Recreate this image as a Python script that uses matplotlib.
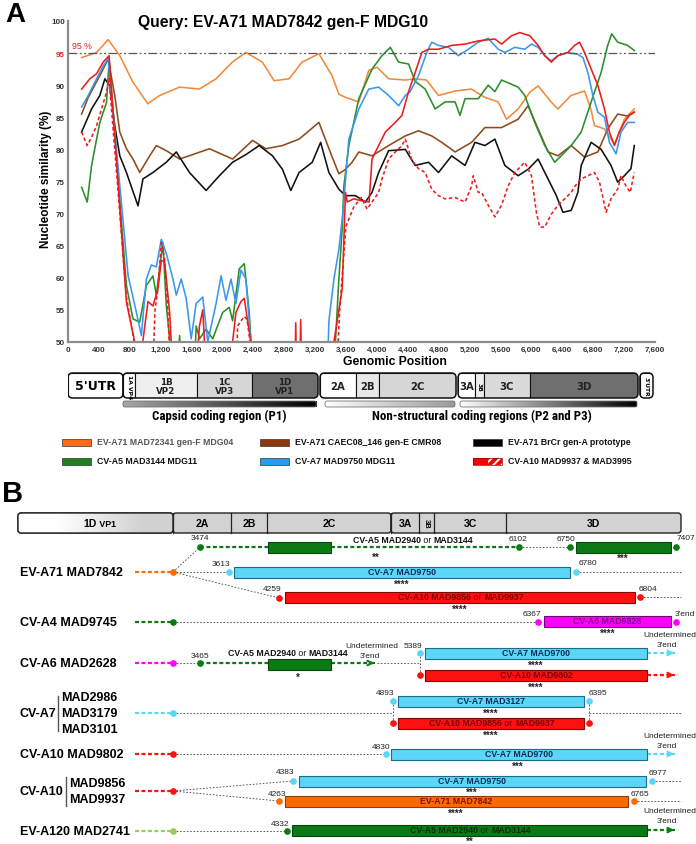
import matplotlib
matplotlib.use("Agg")
import numpy as np
import matplotlib.pyplot as plt
from matplotlib import font_manager
from matplotlib.colors import LinearSegmentedColormap
from matplotlib.patches import Rectangle, FancyBboxPatch
from matplotlib.ticker import FuncFormatter

_names = {f.name for f in font_manager.fontManager.ttflist}
SANS = "Liberation Sans" if "Liberation Sans" in _names else "DejaVu Sans"
NARROW = SANS
for cand in ["Liberation Sans Narrow", "Roboto Condensed", "Open Sans Condensed",
             "Noto Sans Condensed", "DejaVu Sans Condensed"]:
    if cand in _names:
        NARROW = cand
        break
plt.rcParams["font.family"] = [SANS, "DejaVu Sans"]
plt.rcParams["hatch.linewidth"] = 1.4

W, H = 696, 845

# ---------------- panel A: similarity plot data (genomic position, %) -------------
orange_pts = [(180, 94.3), (374, 95.1), (523, 97.1), (674, 94.6), (843, 90.5), (1036, 87.1),
              (1190, 88.4), (1448, 89.7), (1705, 89.4), (1920, 91.0), (2131, 93.6), (2307, 95.1),
              (2518, 93.6), (2671, 90.7), (2865, 91.0), (3033, 93.6), (3251, 94.9), (3420, 91.5),
              (3509, 88.6), (3595, 88.1), (3767, 87.4), (3896, 92.3), (4003, 92.8), (4153, 91.0),
              (4369, 90.8), (4497, 91.0), (4644, 90.8), (4798, 88.4), (5013, 89.1), (5223, 89.4),
              (5399, 88.1), (5571, 87.4), (5678, 84.7), (5829, 86.3), (5980, 88.9), (6087, 89.9),
              (6254, 87.4), (6344, 86.3), (6512, 88.4), (6688, 89.1), (6770, 86.3), (6817, 83.7),
              (6946, 83.2), (7075, 80.8), (7204, 84.7), (7332, 86.3)]
brown_pts = [(180, 85.5), (266, 88.1), (416, 91.5), (523, 94.1), (609, 88.4), (674, 82.7),
             (760, 80.1), (845, 78.5), (932, 76.4), (1061, 79.0), (1147, 80.6), (1276, 79.8),
             (1448, 78.5), (1619, 79.2), (1834, 80.1), (2134, 78.5), (2392, 81.4), (2564, 80.1),
             (2779, 80.6), (2994, 81.6), (3251, 84.2), (3423, 78.8), (3509, 76.2), (3595, 76.9),
             (3680, 78.0), (3767, 79.6), (3938, 79.0), (4153, 80.6), (4369, 82.1), (4540, 82.9),
             (4711, 82.1), (4840, 81.1), (5013, 79.6), (5227, 81.1), (5399, 83.4), (5614, 83.4),
             (5829, 84.7), (5958, 86.8), (6087, 83.2), (6216, 79.6), (6344, 79.0), (6516, 80.6),
             (6688, 78.8), (6860, 79.6), (6988, 83.2), (7117, 85.5), (7246, 85.2), (7332, 85.8)]
black_pts = [(180, 82.7), (309, 86.3), (416, 88.4), (481, 91.0), (545, 89.9), (609, 83.7),
             (674, 79.0), (760, 76.4), (910, 71.2), (974, 75.4), (1103, 76.4), (1276, 78.0),
             (1405, 79.6), (1576, 76.4), (1791, 73.6), (1963, 75.9), (2134, 78.0), (2307, 79.2),
             (2478, 80.6), (2650, 79.0), (2779, 76.9), (2887, 73.6), (2994, 76.4), (3165, 78.0),
             (3273, 81.1), (3380, 76.4), (3509, 73.8), (3595, 72.8), (3724, 72.8), (3853, 71.8),
             (3938, 73.3), (4024, 76.4), (4153, 79.8), (4369, 80.0), (4497, 77.5), (4669, 78.0),
             (4798, 76.4), (4969, 79.0), (5142, 77.5), (5270, 81.1), (5399, 80.6), (5528, 81.6),
             (5657, 77.5), (5829, 75.9), (5958, 76.9), (6087, 78.5), (6216, 75.4), (6323, 72.8),
             (6409, 70.2), (6516, 70.5), (6602, 73.3), (6645, 77.5), (6774, 81.1), (6903, 80.0),
             (7031, 77.5), (7117, 74.9), (7204, 75.9), (7289, 77.0), (7332, 80.6)]
green_pts = [(180, 74.1), (253, 71.8), (309, 77.5), (374, 81.6), (416, 84.2), (502, 87.3),
             (536, 93.8), (609, 82.7), (700, 68.0), (760, 58.8), (845, 53.6), (932, 53.1),
             (1018, 58.8), (1103, 60.3), (1147, 57.3), (1232, 65.5), (1276, 55.7), (1319, 50.5),
             (1340, 45), (1420, 45), (1448, 51.0), (1475, 45), (1640, 45), (1662, 52.5),
             (1706, 50.5), (1790, 52.0), (1877, 50.5), (2005, 54.6), (2091, 55.4), (2134, 53.3),
             (2220, 61.4), (2285, 62.2), (2349, 54.6), (2371, 50.0), (2390, 45), (3445, 45),
             (3467, 50.5), (3509, 59.8), (3552, 67.6), (3574, 74.3), (3638, 80.6), (3767, 87.9),
             (3938, 92.5), (4067, 94.6), (4175, 95.9), (4282, 93.6), (4411, 93.3), (4497, 90.6),
             (4626, 89.4), (4755, 86.3), (4884, 87.4), (5013, 87.4), (5076, 85.3), (5142, 87.9),
             (5313, 87.9), (5442, 90.0), (5528, 89.0), (5614, 90.8), (5829, 89.7), (5915, 88.4),
             (6044, 84.2), (6173, 80.6), (6302, 78.0), (6387, 79.0), (6516, 80.6), (6645, 82.7),
             (6774, 87.4), (6903, 92.0), (6988, 96.2), (7040, 98.0), (7117, 96.7), (7246, 96.2),
             (7332, 95.4)]
blue_pts = [(180, 86.6), (266, 88.4), (374, 91.0), (459, 93.0), (523, 94.1), (782, 60.3),
            (889, 54.6), (953, 51.0), (1018, 59.8), (1082, 62.0), (1147, 61.7), (1211, 66.0),
            (1276, 63.8), (1362, 59.8), (1405, 57.3), (1469, 59.8), (1533, 56.8), (1598, 50.5),
            (1662, 56.0), (1748, 57.0), (1812, 50.0), (1920, 56.0), (1985, 60.3), (2048, 56.5),
            (2113, 59.8), (2177, 56.0), (2242, 61.2), (2306, 59.8), (2371, 50.0), (2390, 45),
            (3360, 45), (3380, 53.3), (3445, 59.8), (3509, 64.4), (3560, 70.0), (3638, 81.6),
            (3767, 86.3), (3896, 89.4), (4024, 89.7), (4153, 88.4), (4282, 86.8), (4369, 88.4),
            (4432, 89.0), (4540, 91.5), (4647, 95.1), (4711, 96.7), (4798, 96.2), (4927, 95.9),
            (5055, 94.6), (5184, 95.6), (5313, 96.7), (5442, 97.3), (5571, 95.6), (5657, 95.1),
            (5786, 95.9), (5915, 95.6), (6001, 96.4), (6087, 95.9), (6173, 94.6), (6258, 93.8),
            (6344, 94.6), (6473, 95.1), (6602, 94.8), (6667, 94.3), (6731, 92.0), (6796, 88.4),
            (6860, 85.8), (6946, 85.0), (7010, 81.1), (7096, 79.3), (7160, 82.7), (7246, 84.2),
            (7332, 84.2)]
red_pts = [(180, 89.4), (287, 91.0), (374, 91.8), (459, 93.6), (536, 94.6), (760, 56.2),
           (867, 50), (900, 45), (950, 45), (974, 50.3), (1039, 56.3), (1103, 55.6), (1168, 58.3),
           (1211, 62.7), (1254, 62.5), (1319, 54.6), (1340, 50), (1360, 45), (1660, 45),
           (1690, 50), (1705, 52.5), (1748, 55), (1770, 50), (1790, 45), (2110, 45), (2134, 50),
           (2177, 54.6), (2242, 56.3), (2285, 56.8), (2328, 53.3), (2371, 50), (2390, 45),
           (2940, 45), (2951, 53), (2962, 45), (3003, 45), (3015, 53.5), (3027, 45), (3430, 45),
           (3445, 50), (3488, 53.3), (3552, 58.3), (3595, 73.3), (3617, 71.8), (3700, 72.3),
           (3800, 72.0), (3900, 71.8), (3938, 78.5), (4024, 80.6), (4110, 82.7), (4239, 84.2),
           (4325, 85.3), (4411, 89.0), (4497, 92.0), (4583, 95.1), (4669, 95.6), (4798, 95.6),
           (4969, 96.2), (5142, 96.4), (5313, 96.9), (5528, 97.2), (5614, 96.4), (5743, 97.7),
           (5850, 98.2), (5980, 97.7), (6087, 96.2), (6173, 94.6), (6258, 93.6), (6344, 94.6),
           (6473, 95.1), (6559, 96.2), (6624, 96.7), (6688, 95.1), (6774, 92.5), (6860, 90.0),
           (6946, 86.3), (7010, 82.7), (7075, 80.6), (7139, 82.7), (7203, 84.2), (7268, 85.3),
           (7332, 85.8)]
red_dash_pts = [(180, 82.7), (253, 80.6), (309, 81.9), (374, 83.7), (438, 86.3), (502, 88.9),
                (536, 91.0), (760, 57.0), (860, 50), (880, 45), (1100, 45), (1130, 55),
                (1168, 58.3), (1211, 65.5), (1254, 63.0), (1297, 54.6), (1330, 45), (2180, 45),
                (2199, 52.5), (2285, 54.0), (2320, 53.5), (2360, 50), (2380, 45), (3480, 45),
                (3520, 55), (3600, 68), (3700, 71.0), (3800, 72.5), (3874, 70.7), (3938, 71.8),
                (4024, 73.3), (4067, 75.4), (4153, 78.5), (4239, 79.6), (4325, 80.6), (4369, 81.6),
                (4454, 78.3), (4540, 77.0), (4626, 76.4), (4711, 73.8), (4798, 72.8), (4884, 72.3),
                (5013, 72.5), (5142, 71.8), (5227, 74.3), (5249, 75.9), (5313, 73.3), (5356, 73.3),
                (5442, 71.3), (5528, 69.5), (5614, 71.3), (5700, 74.3), (5786, 76.4), (5915, 78.0),
                (6001, 75.9), (6065, 70.2), (6108, 67.9), (6173, 67.9), (6258, 69.9), (6344, 71.3),
                (6430, 72.3), (6516, 73.3), (6559, 74.2), (6645, 75.4), (6731, 75.9), (6817, 76.4),
                (6882, 74.9), (6967, 70.2), (7031, 72.3), (7117, 73.8), (7160, 75.9), (7224, 74.3),
                (7280, 73.3), (7332, 76.4)]

legend_labels = ["EV-A71 MAD72341 gen-F MDG04", "EV-A71 CAEC08_146 gen-E CMR08",
                 "EV-A71 BrCr gen-A prototype", "CV-A5 MAD3144 MDG11", "CV-A7 MAD9750 MDG11",
                 "CV-A10 MAD9937 & MAD3995"]

# genome map (genomic coordinates as drawn under the axis)
gene_names = ["5'UTR", "1A VP4", "1B\nVP2", "1C\nVP3", "1D\nVP1", "2A", "2B", "2C",
              "3A", "3B", "3C", "3D", "3'UTR"]
gene_start = [4, 716, 873, 1673, 2385, 3265, 3731, 4029, 5051, 5271, 5387, 5983, 7405]
gene_end = [716, 873, 1673, 2385, 3239, 3731, 4029, 5025, 5271, 5387, 5983, 7380, 7574]
gene_fill = ["white", "white", "#efefef", "#d6d6d6", "#6f6f6f", "white", "#e8e8e8", "#d6d6d6",
             "white", "#eeeeee", "#dadada", "#6f6f6f", "white"]
gene_groups = [(0, 0), (1, 4), (5, 7), (8, 11), (12, 12)]

ORANGE, BROWN, BLACK = "#f28a3c", "#8f4a1a", "#111111"
GREEN, BLUE, RED = "#2a8f2a", "#3b97ee", "#ee1c1c"

fig = plt.figure(figsize=(W / 100, H / 100), dpi=100)

ax_l, ax_r = 67.7, 655
ax = fig.add_axes([ax_l / W, 1 - 343 / H, (ax_r - ax_l) / W, (343 - 22) / H])
series = [(orange_pts, ORANGE, "-"), (brown_pts, BROWN, "-"), (black_pts, BLACK, "-"),
          (green_pts, GREEN, "-"), (blue_pts, BLUE, "-"), (red_pts, RED, "-"),
          (red_dash_pts, RED, (0, (2.2, 1.6)))]
for pts, col, ls in series:
    xs, ys = zip(*pts)
    ax.plot(xs, ys, color=col, lw=1.15, ls=ls)
ax.axhline(95, color="#555555", lw=0.9, ls=(0, (7, 2, 1.5, 2, 1.5, 2)))
ax.set_xlim(0, 7600)
ax.set_ylim(50, 100)
ax.set_xticks(range(0, 7601, 400))
ax.set_yticks(range(50, 101, 5))
ax.xaxis.set_major_formatter(FuncFormatter(lambda v, p: f"{int(v):,}"))
ax.tick_params(length=0, labelsize=5.8, colors="#333333")
ax.tick_params(axis="x", pad=3)
ax.tick_params(axis="y", pad=2)
for lab in ax.get_xticklabels() + ax.get_yticklabels():
    lab.set_fontweight("bold")
for lab in ax.get_yticklabels():
    if lab.get_text() == "95":
        lab.set_color("#e8202a")
for s in ("top", "right"):
    ax.spines[s].set_visible(False)
for s in ("left", "bottom"):
    ax.spines[s].set_color("#8c8c8c")
    ax.spines[s].set_linewidth(1.6)
ax.text(60, 96.2, "95 %", color="#e8202a", fontsize=6.3, ha="left", va="center")

fig.text(5 / W, 1 - 15 / H, "A", fontsize=20, fontweight="bold", va="center")
fig.text(283 / W, 1 - 23 / H, "Query: EV-A71 MAD7842 gen-F MDG10", fontsize=11.3,
         fontweight="bold", ha="center", va="center")
fig.text(46 / W, 1 - 179 / H, "Nucleotide similarity (%)", fontsize=8.5, fontweight="bold",
         rotation=90, ha="center", va="center")
fig.text(395 / W, 1 - 362 / H, "Genomic Position", fontsize=8.7, fontweight="bold",
         ha="center", va="center")

# ---------------- genome map under panel A --------------------------------------
gax = fig.add_axes([ax_l / W, 1 - 440 / H, (ax_r - ax_l) / W, 75 / H])
gax.set_xlim(0, 7600)
gax.set_ylim(440, 365)
gax.axis("off")
asp = (ax_r - ax_l) / 7600.0
y0, y1 = 374, 399
for g0, g1 in gene_groups:
    x0, x1 = gene_start[g0], gene_end[g1]
    box = FancyBboxPatch((x0, y0), x1 - x0, y1 - y0, boxstyle="round,pad=0,rounding_size=60",
                         mutation_aspect=asp, fc="white", ec="none")
    gax.add_patch(box)
    for i in range(g0, g1 + 1):
        r = Rectangle((gene_start[i], y0), gene_end[i] - gene_start[i], y1 - y0,
                      fc=gene_fill[i], ec="#111111", lw=0.8)
        gax.add_patch(r)
        r.set_clip_path(box)
    gax.add_patch(FancyBboxPatch((x0, y0), x1 - x0, y1 - y0,
                                 boxstyle="round,pad=0,rounding_size=60",
                                 mutation_aspect=asp, fc="none", ec="#111111", lw=1.1))
for i, name in enumerate(gene_names):
    cx = (gene_start[i] + gene_end[i]) / 2
    if name == "5'UTR":
        gax.text(cx, 387, name, fontsize=9, fontweight="bold", family="DejaVu Sans",
                 ha="center", va="center")
    elif name in ("1A VP4", "3B", "3'UTR"):
        gax.text(cx, 387, name, fontsize=4.3, fontweight="bold", family="DejaVu Sans",
                 ha="center", va="center", rotation=-90)
    elif "\n" in name:
        gax.text(cx, 387, name, fontsize=6.3, fontweight="bold", family="DejaVu Sans",
                 ha="center", va="center", linespacing=1.0, color="#222222")
    else:
        gax.text(cx, 387, name, fontsize=7.3, fontweight="bold", family="DejaVu Sans",
                 ha="center", va="center", color="#222222")

grad = np.linspace(0, 1, 256).reshape(1, -1)
bars = [(716, 3215, ["#a8a8a8", "#000000"]), (3330, 5011, ["#ffffff", "#9a9a9a"]),
        (5077, 7367, ["#ffffff", "#000000"])]
for x0, x1, cols in bars:
    cm = LinearSegmentedColormap.from_list("g", cols)
    gax.imshow(grad, cmap=cm, extent=[x0, x1, 408, 402], aspect="auto", zorder=2)
    gax.add_patch(FancyBboxPatch((x0, 402), x1 - x0, 6, boxstyle="round,pad=0,rounding_size=25",
                                 mutation_aspect=asp, fc="none", ec="#777777", lw=0.6, zorder=3))
gax.set_xlim(0, 7600)
gax.set_ylim(440, 365)

cap_fs = 9.3 if NARROW != SANS else 7.8
fig.text(219 / W, 1 - 416 / H, "Capsid coding region (P1)", family=NARROW, fontsize=cap_fs,
         fontweight="bold", ha="center", va="center")
fig.text(482 / W, 1 - 416 / H, "Non-structural coding regions (P2 and P3)", family=NARROW,
         fontsize=cap_fs, fontweight="bold", ha="center", va="center")

# ---------------- overlay in pixel coordinates (legend + panel B) --------------
ov = fig.add_axes([0, 0, 1, 1], facecolor="none")
ov.set_autoscale_on(False)
ov.set_xlim(0, W)
ov.set_ylim(H, 0)
ov.axis("off")

leg_cols = ["#ff6a1a", "#8b3a10", "#000000", "#1f7f1f", "#1ea0f0", "#ff0000"]
leg_px = [62, 260, 473]
leg_py = [443, 462]
for k, (lab, col) in enumerate(zip(legend_labels, leg_cols)):
    px, py = leg_px[k % 3], leg_py[k // 3]
    if k == 5:
        ov.add_patch(Rectangle((px, py - 3.5), 15, 7, fc=col, ec="none"))
        ov.add_patch(Rectangle((px + 15, py - 3.5), 14, 7, fc=col, ec="white", lw=0, hatch="////"))
        ov.add_patch(Rectangle((px, py - 3.5), 29, 7, fc="none", ec="#8a0000", lw=0.5))
    else:
        ov.add_patch(Rectangle((px, py - 3.5), 29, 7, fc=col, ec="#333333", lw=0.5))
    ov.text(px + 35, py, lab, fontsize=6.3, fontweight="bold", ha="left", va="center",
            color="#555555" if k == 0 else "#111111")

ov.text(2, 494, "B", fontsize=21, fontweight="bold", va="center", ha="left")

# panel B top genome bar
b_regions = ["1D", "2A", "2B", "2C", "3A", "3B", "3C", "3D"]
b_edges = [18, 173, 231, 267, 391, 419, 434, 506, 681]
b_groups = [(0, 1), (1, 4), (4, 8)]
for a, b in b_groups:
    x0, x1 = b_edges[a], b_edges[b]
    p = FancyBboxPatch((x0, 514), x1 - x0, 20, boxstyle="round,pad=0,rounding_size=3",
                       fc="#d2d2d2", ec="#222222", lw=1.0)
    ov.add_patch(p)
    if a == 0:
        cm = LinearSegmentedColormap.from_list("v", [(0, "white"), (0.25, "white"),
                                                     (0.8, "#d2d2d2"), (1, "#d2d2d2")])
        im = ov.imshow(grad, cmap=cm, extent=[x0, x1, 534, 514], aspect="auto", zorder=1.5)
        im.set_clip_path(p)
        ov.add_patch(FancyBboxPatch((x0, 514), x1 - x0, 20, boxstyle="round,pad=0,rounding_size=3",
                                    fc="none", ec="#222222", lw=1.0, zorder=2))
for e in b_edges[1:-1]:
    ov.plot([e, e], [514, 534], color="#222222", lw=0.9, zorder=2.5)
ov.set_xlim(0, W)
ov.set_ylim(H, 0)
for i, name in enumerate(b_regions):
    cx = (b_edges[i] + b_edges[i + 1]) / 2
    if name == "1D":
        t = ov.text(90, 524.5, "1D", fontsize=7.6, fontweight="bold", ha="center", va="center")
        ov.annotate(" VP1", xy=(1, 0.5), xycoords=t, fontsize=6.3, fontweight="bold",
                    ha="left", va="center")
    elif name == "3B":
        ov.text(cx, 524, name, fontsize=5.5, fontweight="bold", ha="center", va="center",
                rotation=-90)
    else:
        ov.text(cx, 524.5, name, fontsize=7.6, fontweight="bold", ha="center", va="center")

G_B, CY_B, RED_B = "#0b7a14", "#5cd6f7", "#ff1010"
MAG_B, OR_B, LG_B = "#ff00ff", "#ff6a00", "#9ccc5a"
EDGE = {G_B: "#064a0a", CY_B: "#1d6a8a", RED_B: "#8b0000", MAG_B: "#7a007a", OR_B: "#8b3a00"}
TXT = {G_B: "#062e08", CY_B: "#0d2a55", RED_B: "#7d0000", MAG_B: "#7a007a", OR_B: "#7d1400"}
BOX_FS = 6.3


def dot(x, y, c):
    ov.plot([x], [y], "o", ms=3.8, color=c, mec=c, zorder=5)


def dashed(x0, x1, y, c):
    ov.plot([x0, x1], [y, y], color=c, lw=1.6, ls=(0, (1.8, 1.1)), zorder=3)


def dotted(xs, ys):
    ov.plot(xs, ys, color="#444444", lw=0.6, ls=(0, (2, 2)), zorder=2)


def arrow(x0, x1, y, c):
    dashed(x0, x1 - 3, y, c)
    ov.annotate("", xy=(x1, y), xytext=(x1 - 6, y),
                arrowprops=dict(arrowstyle="->", color=c, lw=1.5, mutation_scale=8), zorder=4)


def num(x, y, s, fs=6.0):
    ov.text(x, y, s, fontsize=fs, color="#222222", ha="center", va="center")


def stars(x, y, s):
    ov.text(x, y + 1.5, s, fontsize=7, fontweight="bold", color="#222222", ha="center",
            va="center", zorder=7)


def or_text(cx, cy, left, right, color, fs=BOX_FS):
    shift = (len(left) - len(right)) * 0.40 * fs
    mid = ov.text(cx + shift, cy, " or ", fontsize=fs, color=color, ha="center", va="center",
                  zorder=6)
    ov.annotate(left, xy=(0, 0.5), xycoords=mid, fontsize=fs, fontweight="bold", color=color,
                ha="right", va="center", zorder=6)
    ov.annotate(right, xy=(1, 0.5), xycoords=mid, fontsize=fs, fontweight="bold", color=color,
                ha="left", va="center", zorder=6)


def box(x0, x1, yc, c, text=None, h=11):
    ov.add_patch(Rectangle((x0, yc - h / 2), x1 - x0, h, fc=c, ec=EDGE[c], lw=0.8, zorder=4))
    if isinstance(text, tuple):
        or_text((x0 + x1) / 2, yc, text[0], text[1], TXT[c])
    elif text:
        ov.text((x0 + x1) / 2, yc, text, fontsize=BOX_FS, fontweight="bold", color=TXT[c],
                ha="center", va="center", zorder=6)


def lead(y, c):
    dashed(135, 173, y, c)
    dot(173, y, c)


# row labels
row_labels = ["EV-A71 MAD7842", "CV-A4 MAD9745", "CV-A6 MAD2628", "CV-A10 MAD9802",
              "EV-A120 MAD2741"]
row_label_y = [573, 623, 664, 755, 832]
for lab, y in zip(row_labels, row_label_y):
    ov.text(20, y, lab, fontsize=9, fontweight="bold", ha="left", va="center")
ov.text(20, 714, "CV-A7", fontsize=9, fontweight="bold", ha="left", va="center")
ov.plot([58, 58], [697, 732], color="#555555", lw=1.0)
for s, y in zip(["MAD2986", "MAD3179", "MAD3101"], [698, 714, 730]):
    ov.text(61, y, s, fontsize=9, fontweight="bold", ha="left", va="center")
ov.text(20, 792, "CV-A10", fontsize=9, fontweight="bold", ha="left", va="center")
ov.plot([66, 66], [778, 807], color="#555555", lw=1.0)
for s, y in zip(["MAD9856", "MAD9937"], [784, 800]):
    ov.text(69, y, s, fontsize=9, fontweight="bold", ha="left", va="center")

A5 = ("CV-A5 MAD2940", "MAD3144")

# EV-A71 MAD7842
lead(573, OR_B)
dotted([173, 200], [573, 548])
dotted([173, 229], [573, 573])
dotted([173, 279], [573, 599])
dashed(200, 268, 548, G_B)
box(268, 331, 548, G_B)
dashed(331, 519, 548, G_B)
dotted([519, 570], [548, 548])
box(576, 671, 548, G_B)
for x in (200, 519, 570, 676):
    dot(x, 548, G_B)
or_text(412, 541, A5[0], A5[1], "#111111")
stars(376, 556, "**")
stars(623, 557, "***")
num(200, 539, "3474")
num(518, 540, "6102")
num(566, 540, "6750")
num(686, 539, "7407")
dot(229, 573, CY_B)
box(234, 570, 573, CY_B, "CV-A7 MAD9750")
stars(402, 583, "****")
dot(576, 573, CY_B)
dotted([576, 681], [573, 573])
num(221, 565, "3613")
num(588, 564, "6780")
dot(279, 599, RED_B)
box(285, 635, 598, RED_B, ("CV-A10 MAD9856", "MAD9937"))
stars(460, 608, "****")
dot(640, 598, RED_B)
dotted([640, 681], [598, 598])
num(272, 590, "4259")
num(648, 590, "6804")

# CV-A4 MAD9745
lead(623, G_B)
dotted([173, 538], [623, 623])
dot(538, 623, MAG_B)
box(544, 671, 622, MAG_B, "CV-A6 MAD9828")
stars(608, 632, "****")
dot(676, 623, MAG_B)
num(532, 615, "6367")
num(685, 615, "3'end")

# CV-A6 MAD2628
lead(664, MAG_B)
dotted([173, 200], [664, 664])
dot(200, 664, G_B)
num(200, 657, "3465")
dashed(200, 268, 664, G_B)
box(268, 331, 665, G_B)
or_text(287, 654, A5[0], A5[1], "#111111")
stars(298, 676, "*")
arrow(331, 377, 664, G_B)
num(372, 647, "Undetermined")
num(370, 657, "3'end")
dotted([377, 420], [664, 664])
dotted([420, 420], [654, 676])
dot(420, 654, CY_B)
dot(420, 676, RED_B)
num(413, 647, "5389")
box(425, 647, 654, CY_B, "CV-A7 MAD9700")
stars(536, 664, "****")
arrow(647, 677, 654, CY_B)
num(670, 636, "Undetermined")
num(667, 646, "3'end")
box(425, 647, 676, RED_B, "CV-A10 MAD9802")
stars(536, 686, "****")
arrow(647, 677, 676, RED_B)

# CV-A7
lead(714, CY_B)
dotted([173, 393], [714, 714])
dotted([393, 393], [702, 724])
dot(393, 702, CY_B)
dot(393, 724, RED_B)
num(385, 694, "4893")
box(398, 584, 702, CY_B, "CV-A7 MAD3127")
stars(491, 712, "****")
box(398, 584, 724, RED_B, ("CV-A10 MAD9856", "MAD9937"))
stars(491, 734, "****")
dotted([589, 589], [702, 724])
dot(589, 702, CY_B)
dot(589, 724, RED_B)
num(598, 694, "6395")
dotted([589, 681], [714, 714])

# CV-A10 MAD9802
lead(755, RED_B)
dotted([173, 386], [755, 755])
dot(386, 755, CY_B)
num(381, 748, "4830")
box(391, 647, 755, CY_B, "CV-A7 MAD9700")
stars(518, 765, "***")
arrow(647, 677, 755, CY_B)
num(670, 737, "Undetermined")
num(667, 747, "3'end")

# CV-A10 MAD9856 / MAD9937
lead(792, RED_B)
dotted([173, 293], [792, 782])
dotted([173, 279], [792, 802])
dot(293, 782, CY_B)
num(285, 773, "4383")
box(299, 646, 782, CY_B, "CV-A7 MAD9750")
stars(472, 791, "***")
dot(652, 782, CY_B)
num(658, 774, "6977")
dotted([652, 681], [782, 782])
dot(279, 802, OR_B)
num(277, 795, "4263")
box(285, 628, 802, OR_B, "EV-A71 MAD7842")
stars(456, 812, "****")
dot(634, 802, OR_B)
num(640, 795, "6765")
dotted([634, 681], [802, 802])

# EV-A120 MAD2741
lead(832, LG_B)
dotted([173, 287], [832, 832])
dot(287, 832, G_B)
num(280, 825, "4332")
box(292, 647, 831, G_B, A5)
ov.text(470, 836.5, "**", fontsize=7, fontweight="bold", color="#222222", ha="center",
        va="top", zorder=7)
arrow(647, 677, 831, G_B)
num(670, 812, "Undetermined")
num(667, 822, "3'end")

ov.set_xlim(0, W)
ov.set_ylim(H, 0)
fig.savefig("out.png", dpi=100)
